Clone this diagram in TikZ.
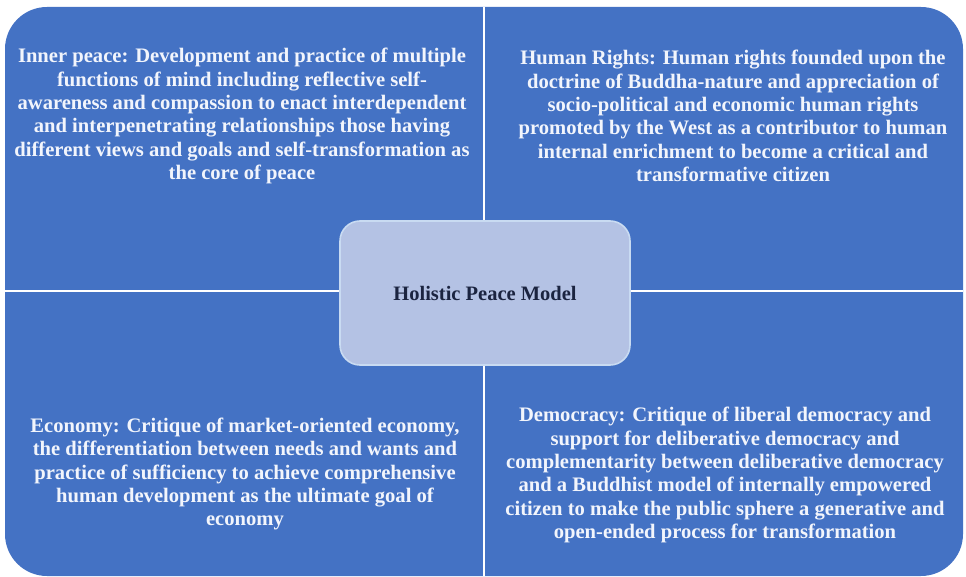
\documentclass[tikz,border=0pt]{standalone}
\usepackage{fontspec}
\setmainfont{Liberation Serif}
\definecolor{quadblue}{HTML}{4472C4}
\definecolor{hubfill}{HTML}{B4C2E4}
\definecolor{hubedge}{HTML}{C9DBF2}
\definecolor{hubtext}{HTML}{1B2440}
\definecolor{quadtext}{HTML}{F2F5FC}
\begin{document}
\begin{tikzpicture}[x=1pt,y=-1pt,
  quadtxt/.style={text=quadtext, align=center, inner sep=0pt,
    font=\fontsize{20.6}{23.3}\selectfont\bfseries},
  hub/.style={draw=hubedge, line width=1.6pt, fill=hubfill, rounded corners=20pt,
    minimum width=290pt, minimum height=144pt, text=hubtext,
    font=\fontsize{20.5}{23.3}\selectfont\bfseries},
  divider/.style={white, line width=2.6pt}]
\useasboundingbox (0,0) rectangle (966,577);
% four quadrants as one rounded block, split by white dividers
\fill[quadblue, rounded corners=42pt] (5,7) rectangle (963,576);
\coordinate (vt) at (484,7);
\coordinate (vb) at (484,576);
\coordinate (hl) at (5,291);
\coordinate (hr) at (963,291);
\draw[divider] (vt) -- (vb);
\draw[divider] (hl) -- (hr);
% quadrant texts
\node[quadtxt] (inner) at (242,116) {Inner peace: Development and practice of multiple\\
functions of mind including reflective self-\\
awareness and compassion to enact interdependent\\
and interpenetrating relationships those having\\
different views and goals and self-transformation as\\
the core of peace};
\node[quadtxt] (rights) at (733,116) {Human Rights: Human rights founded upon the\\
doctrine of Buddha-nature and appreciation of\\
socio-political and economic human rights\\
promoted by the West as a contributor to human\\
internal enrichment to become a critical and\\
transformative citizen};
\node[quadtxt] (economy) at (245,474) {Economy: Critique of market-oriented economy,\\
the differentiation between needs and wants and\\
practice of sufficiency to achieve comprehensive\\
human development as the ultimate goal of\\
economy};
\node[quadtxt] (democracy) at (725,475) {Democracy: Critique of liberal democracy and\\
support for deliberative democracy and\\
complementarity between deliberative democracy\\
and a Buddhist model of internally empowered\\
citizen to make the public sphere a generative and\\
open-ended process for transformation};
% central hub
\node[hub] (model) at (485,293) {Holistic Peace Model};
\end{tikzpicture}
\end{document}
